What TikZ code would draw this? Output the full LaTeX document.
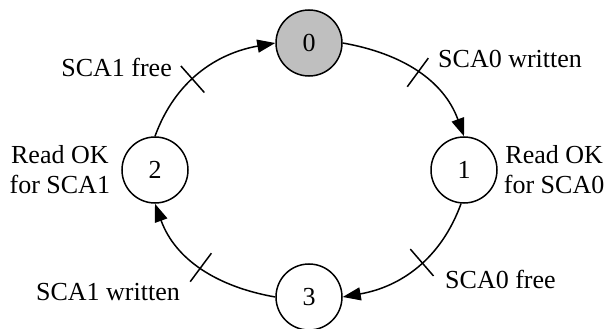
\documentclass[tikz,border=0pt]{standalone}
\usepackage{fontspec}
\setmainfont{Liberation Serif}
\usetikzlibrary{positioning,arrows.meta}

\tikzset{
  state/.style={circle, draw, line width=1.5pt, minimum size=66pt, inner sep=0pt},
  trans/.style={line width=1.5pt, -{Triangle[length=18pt,width=13pt]}},
  tickmark/.style={sloped, minimum height=34pt, minimum width=0pt, inner sep=0pt},
  lbl/.style={inner sep=0pt, align=center}
}

\begin{document}
\begin{tikzpicture}[x=1pt, y=1pt, font=\fontsize{26}{30}\selectfont]
    \useasboundingbox (0,0) rectangle (606,-329);

    \node[state, fill=black!25] (n0) at (309,-43) {0};
    \node[state] (n1) at (464,-170) {1};
    \node[state] (n2) at (155,-170) {2};
    \node[state] (n3) at (309,-297) {3};

    \draw[trans] (n0.east) to[out=-10, in=110] node[tickmark, pos=0.5] (t01) {} (n1.north);
    \draw[trans] (n1.265) to[out=-110, in=10] node[tickmark, pos=0.45] (t13) {} (n3.east);
    \draw[trans] (n3.west) to[out=170, in=-70] node[tickmark, pos=0.5] (t32) {} (n2.south);
    \draw[trans] (n2.north) to[out=70, in=-170] node[tickmark, pos=0.43] (t20) {} (n0.west);

    \draw[line width=1.5pt] (t01.north) -- (t01.south);
    \draw[line width=1.5pt] (t13.north) -- (t13.south);
    \draw[line width=1.5pt] (t32.north) -- (t32.south);
    \draw[line width=1.5pt] (t20.north) -- (t20.south);

    \node[lbl, anchor=base west] (l01) at (438,-68) {SCA0 written};
    \node[lbl, anchor=base west] (l13) at (445,-288) {SCA0 free};
    \node[lbl, anchor=base east] (l32) at (180,-300) {SCA1 written};
    \node[lbl, anchor=base east] (l20) at (172,-77) {SCA1 free};

    \node[lbl, right=6pt of n1] (r1) {Read OK\\for SCA0};
    \node[lbl, left=11pt of n2] (r2) {Read OK\\for SCA1};
\end{tikzpicture}
\end{document}
